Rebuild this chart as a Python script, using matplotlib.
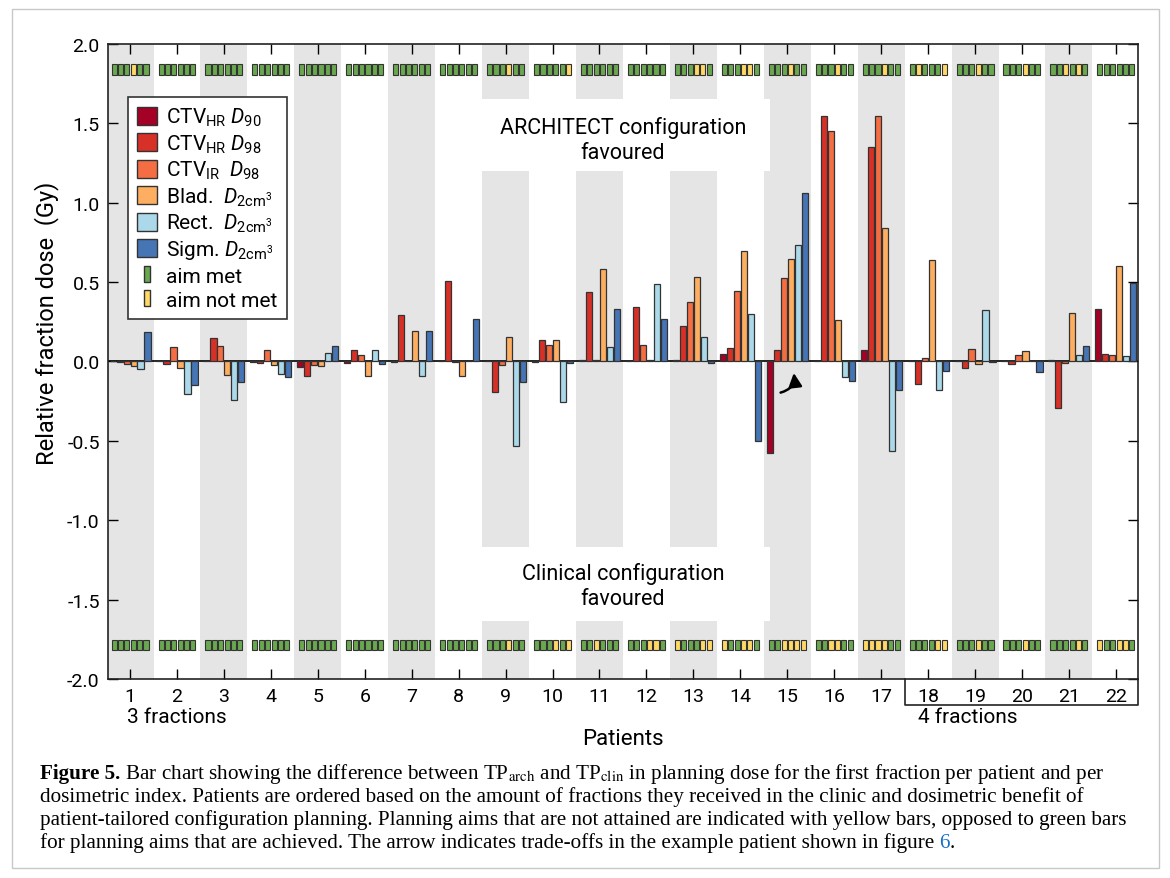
import matplotlib
matplotlib.use("Agg")
import matplotlib.pyplot as plt
import numpy as np
from matplotlib.patches import Patch, Rectangle
from matplotlib.lines import Line2D

plt.rcParams['font.family'] = ['Roboto', 'DejaVu Sans']
plt.rcParams['axes.unicode_minus'] = False
plt.rcParams['mathtext.fontset'] = 'custom'
plt.rcParams['mathtext.rm'] = 'Roboto'
plt.rcParams['mathtext.it'] = 'Roboto:italic'

# ---- data ----
patients = np.arange(1, 23)
index_names = [r'CTV$_{\mathrm{HR}}$ $D_{90}$', r'CTV$_{\mathrm{HR}}$ $D_{98}$',
               r'CTV$_{\mathrm{IR}}$  $D_{98}$', r'Blad.  $D_{2\mathrm{cm}^3}$',
               r'Rect.  $D_{2\mathrm{cm}^3}$', r'Sigm. $D_{2\mathrm{cm}^3}$']
index_colors = ['#a50026', '#d73027', '#f46d43', '#fdae61', '#abd9e9', '#4575b4']

ctv_hr_d90 = [0.0, 0.005, 0.005, -0.004, -0.035, -0.01, -0.003, 0.005, 0.005, -0.005, 0.008,
              0.0, 0.012, 0.05, -0.576, 0.002, 0.072, 0.0, 0.0, 0.0, 0.008, 0.33]
ctv_hr_d98 = [-0.005, -0.015, 0.15, -0.008, -0.09, 0.07, 0.29, 0.505, -0.19, 0.135, 0.437,
              0.343, 0.223, 0.088, 0.072, 1.548, 1.352, -0.14, -0.04, -0.015, -0.292, 0.046]
ctv_ir_d98 = [-0.015, 0.09, 0.097, 0.07, -0.02, 0.042, 0.0, -0.003, -0.02, 0.107, 0.012,
              0.103, 0.375, 0.442, 0.526, 1.455, 1.544, 0.023, 0.08, 0.044, -0.008, 0.04]
bladder = [-0.03, -0.04, -0.082, -0.02, -0.03, -0.09, 0.19, -0.093, 0.155, 0.137, 0.585,
           0.012, 0.532, 0.698, 0.644, 0.263, 0.84, 0.64, -0.015, 0.065, 0.307, 0.604]
rectum = [-0.05, -0.205, -0.245, -0.08, 0.055, 0.075, -0.09, 0.0, -0.535, -0.252, 0.09,
          0.49, 0.152, 0.299, 0.736, -0.097, -0.566, -0.177, 0.324, 0.0, 0.04, 0.034]
sigmoid = [0.185, -0.15, -0.13, -0.1, 0.1, -0.015, 0.195, 0.265, -0.13, -0.01, 0.33,
           0.27, -0.008, -0.503, 1.06, -0.124, -0.18, -0.057, -0.004, -0.067, 0.1, 0.492]
series = [ctv_hr_d90, ctv_hr_d98, ctv_ir_d98, bladder, rectum, sigmoid]

# indices (0-5) of planning aims not met, per patient
arch_not_met = [[3], [], [], [], [], [], [], [], [3], [5], [], [], [3, 4], [3, 4], [3], [3],
                [3], [1, 5], [3], [3], [2, 4], []]
clin_not_met = [[], [], [], [], [], [], [], [], [3], [3, 5], [2], [3, 4], [0, 4, 5], [0, 3, 4],
                [2, 3, 4, 5], [2, 3], [0, 1, 2, 3], [4, 5], [3], [3], [4], [0, 3, 4]]

green = '#6aa84f'
yellow = '#ffd966'

fig = plt.figure(figsize=(11.7, 8.79), dpi=100)
ax = fig.add_axes([0.0923, 0.2264, 0.8803, 0.7224])

# alternating bands
for p in patients:
    if p % 2 == 1:
        ax.axvspan(p - 0.5, p + 0.5, color='#e5e5e5', lw=0, zorder=0)

# white boxes behind the annotations
ax.add_patch(Rectangle((8.5, 1.2), 6.13, 0.453, fc='white', ec='none', zorder=0.5))
ax.add_patch(Rectangle((8.5, -1.633), 6.13, 0.463, fc='white', ec='none', zorder=0.5))

pitch = 0.149
for k, vals in enumerate(series):
    ax.bar(patients + (k - 2.5) * pitch, vals, width=0.13, color=index_colors[k],
           edgecolor='#333333', linewidth=0.9, zorder=3)

ax.axhline(0, color='black', lw=1.2, zorder=2.5)

# aim met / not met markers
mpitch = 0.136
for row_y, not_met in [(1.84, arch_not_met), (-1.785, clin_not_met)]:
    for i, p in enumerate(patients):
        cols = [yellow if k in not_met[i] else green for k in range(6)]
        ax.bar(p + (np.arange(6) - 2.5) * mpitch, 0.066, bottom=row_y - 0.033,
               width=0.108, color=cols, edgecolor='#333333', linewidth=0.8, zorder=3)

ax.text(11.5, 1.40, 'ARCHITECT configuration\nfavoured', ha='center', va='center',
        fontsize=15.5, linespacing=1.25, zorder=4)
ax.text(11.5, -1.41, 'Clinical configuration\nfavoured', ha='center', va='center',
        fontsize=15.5, linespacing=1.25, zorder=4)

ax.annotate('', xy=(15.13, -0.055), xytext=(14.8, -0.2),
            arrowprops=dict(arrowstyle='-|>', connectionstyle='arc3,rad=0.5',
                            color='black', lw=1.8, mutation_scale=20), zorder=5)

ax.set_xlim(0.53, 22.47)
ax.set_ylim(-2.0, 2.0)
ax.set_xticks(patients)
ax.set_xticklabels([str(p) for p in patients])
ax.set_yticks(np.arange(-2.0, 2.01, 0.5))
ax.set_yticklabels([f'{v:.1f}' for v in np.arange(-2.0, 2.01, 0.5)])
ax.tick_params(direction='in', top=True, right=True, length=7, width=1, labelsize=14, pad=6)
for s in ax.spines.values():
    s.set_linewidth(1.2)
    s.set_color('#222222')
    s.set_zorder(6)
ax.set_ylabel('Relative fraction dose  (Gy)', fontsize=17)
ax.yaxis.set_label_coords(-0.048, 0.562)
ax.set_xlabel('Patients', fontsize=16, labelpad=16)

# fraction groups below axis
tr = ax.get_xaxis_transform()
ax.plot([17.5, 17.5, 22.47, 22.47], [0, -0.041, -0.041, 0], color='#222222', lw=1.2,
        transform=tr, clip_on=False)
ax.text(0.94, -0.044, '3 fractions', transform=tr, ha='left', va='top', fontsize=15)
ax.text(17.78, -0.044, '4 fractions', transform=tr, ha='left', va='top', fontsize=15)

# legend
handles = [Patch(fc=c, ec='#333333', lw=1) for c in index_colors]
rect_marker = [(-0.35, -1), (0.35, -1), (0.35, 1), (-0.35, 1), (-0.35, -1)]
handles += [Line2D([], [], ls='none', marker=rect_marker, markersize=12, mfc=green,
                   mec='#333333', mew=1),
            Line2D([], [], ls='none', marker=rect_marker, markersize=12, mfc=yellow,
                   mec='#333333', mew=1)]
labels = index_names + ['aim met', 'aim not met']
leg = ax.legend(handles, labels, loc='upper left', bbox_to_anchor=(0.019, 0.917),
                borderaxespad=0, fontsize=15, frameon=True, fancybox=False,
                handlelength=0.95, handleheight=0.95, handletextpad=0.45,
                labelspacing=0.2, borderpad=0.45, framealpha=1)
leg.get_frame().set_edgecolor('#333333')
leg.get_frame().set_linewidth(1.2)
leg.set_zorder(7)

# outer frame
fig.add_artist(Rectangle((12 / 1170, 1 - 869 / 879), 1147 / 1170, 859 / 879,
                         transform=fig.transFigure, fill=False, ec='#c8c8c8', lw=1))

# caption
cap_font = dict(family='Liberation Serif', fontsize=15.2, math_fontfamily='stix')
renderer = fig.canvas.get_renderer()


def put_runs(x_px, y_px, runs):
    x = x_px
    for txt, extra in runs:
        t = fig.text(x / 1170, 1 - y_px / 879, txt, va='baseline', ha='left',
                     **cap_font, **extra)
        x += t.get_window_extent(renderer).width


put_runs(40, 779, [('Figure 5.', dict(weight='bold')),
                   (' Bar chart showing the difference between TP$_{\\mathrm{arch}}$ and '
                    'TP$_{\\mathrm{clin}}$ in planning dose for the first fraction per patient and per', {})])
put_runs(40, 802, [('dosimetric index. Patients are ordered based on the amount of fractions they '
                    'received in the clinic and dosimetric benefit of', {})])
put_runs(40, 825, [('patient-tailored configuration planning. Planning aims that are not attained '
                    'are indicated with yellow bars, opposed to green bars', {})])
put_runs(40, 848, [('for planning aims that are achieved. The arrow indicates trade-offs in the '
                    'example patient shown in figure ', {}),
                   ('6', dict(color='#1a6fc4')), ('.', {})])

fig.savefig('out.png', dpi=100)
